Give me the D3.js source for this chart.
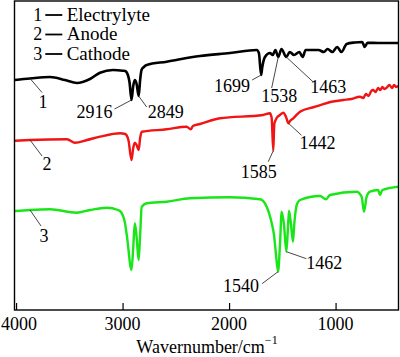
<!DOCTYPE html>
<html><head><meta charset="utf-8"><script src="https://cdn.jsdelivr.net/npm/d3@7"></script></head>
<body style="margin:0">
<svg id="chart" width="400" height="357" font-family="Liberation Serif"></svg>
<script>
// ---- data (wavenumber in cm^-1, transmittance in arbitrary offset units) ----
const wnElectrolyte = [4010,3869,3681,3541,3428,3306,3212,3090,2996,2975,2950,2935,2916,2900,2885,2868,2849,2835,2822,2800,2773,2586,2273,1991,1740,1720,1699,1688,1663,1616,1590,1565,1538,1508,1463,1430,1390,1340,1310,1280,1160,1110,1075,1030,985,945,896,820,750,726,700,600,410];
const tElectrolyte  = [230,231.5,233,230,227,231,237.3,240,239.3,239,235,228,210,224,230,226,214,230,240,243,245,248.3,254,257,260,257,235,243,253,257,255,260,253,261,253,258,255,258,253,260,260,258,261,258,263,258,266,267.5,268,263,267.3,267,267];

const wnAnode = [4010,3869,3522,3447,3334,3212,3024,2975,2945,2916,2900,2885,2868,2849,2835,2820,2586,2398,2360,2339,2273,2085,1681,1616,1600,1585,1575,1553,1522,1491,1465,1442,1428,1397,1334,1200,1024,930,850,771,740,715,690,665,648,625,600,580,560,540,517,495,470,450,430,410];
const tAnode  = [169.3,170,170.7,167.3,170,173.3,176.7,176,170,150,162,167.3,165,160,172,178.3,180.7,183.3,180.7,184,186,191.7,195,196.7,192,159.3,186,192,195,197.3,193,186.7,189,191.7,198.3,203,208.5,210,211,213.3,212,216,214,219,220,218,222,220,223,221,222.7,225,222,225,223,224];

const wnCathode = [4010,3869,3681,3431,3306,3149,3043,3015,2977,2958,2916,2900,2885,2868,2849,2835,2820,2773,2586,2367,1991,1710,1647,1600,1578,1559,1540,1522,1506,1484,1462,1448,1437,1418,1400,1386,1365,1334,1146,1090,1052,802,755,733,708,677,600,583,560,410];
const tCathode  = [99,100,100.7,97.3,100,102.3,100,98,86.7,73,40,62,86.7,73,50,75,103.3,106.7,108.3,111.7,112.7,110.7,103.3,87,75,55,38.3,65,98.3,85,58.3,80,99.3,85,68.3,88,105,110,114,110.7,115,118.3,113.3,98.3,113.3,118.3,120,115,120,123.3];

const seriesNames = ["Electrylyte","Anode","Cathode"];
const seriesColors = ["#000000","#f01414","#18e618"];
const xTicks = [4000,3000,2000,1000];
const xTitle = "Wavernumber/cm";
const xTitleSup = "\u22121";

// peak annotations
const peakSeries = [0,0,0,0,0,1,1,2,2];
const peakWn     = [2916,2849,1699,1538,1463,1585,1442,1540,1462];
const peakLabels = ["2916","2849","1699","1538","1463","1585","1442","1540","1462"];

// ---- layout ----
const L = 14.5, R = 398.5, T = 1, B = 310;
const FONT = "Liberation Serif";
const FS = 18;
const svg = d3.select("#chart");

const x = d3.scaleLinear().domain([4010, 410]).range([15, 398.4]);
const y = d3.scaleLinear().domain([0, 309]).range([310, 1]);

const series = [
  {wn: wnElectrolyte, t: tElectrolyte},
  {wn: wnAnode, t: tAnode},
  {wn: wnCathode, t: tCathode}
];

const line = d3.line()
  .x(d => x(d[0]))
  .y(d => y(d[1]))
  .curve(d3.curveMonotoneX);

svg.append("clipPath").attr("id","clip")
  .append("rect").attr("x", L).attr("y", T).attr("width", R - L).attr("height", B - T);

const g = svg.append("g").attr("clip-path","url(#clip)");
series.forEach((s, i) => {
  const pts = s.wn.map((w, k) => [w, s.t[k]]);
  g.append("path")
    .attr("d", line(pts))
    .attr("fill","none")
    .attr("stroke", seriesColors[i])
    .attr("stroke-width", i === 0 ? 2.6 : 2.4)
    .attr("stroke-linejoin","round");
});

// frame
svg.append("rect")
  .attr("x", L).attr("y", T).attr("width", R - L).attr("height", B - T)
  .attr("fill","none").attr("stroke","#000").attr("stroke-width",1.4);

// x axis (labels drawn as plain texts from the axis scale)
const axis = d3.axisBottom(x).tickValues(xTicks).tickSizeInner(-7).tickSizeOuter(0).tickFormat("");
const ax = svg.append("g").attr("transform", `translate(0,${B})`).call(axis);
ax.select(".domain").remove();
ax.selectAll(".tick line").attr("stroke","#000").attr("stroke-width",1.2);
ax.selectAll(".tick text").remove();
xTicks.forEach(t => {
  svg.append("text")
    .attr("x", x(t) + (t === 4000 ? 3 : 0)).attr("y", B + 20)
    .attr("text-anchor","middle")
    .attr("font-family", FONT).attr("font-size", FS)
    .text(d3.format("d")(t));
});

// x title
const tt = svg.append("text")
  .attr("x", 207).attr("y", 353)
  .attr("text-anchor","middle")
  .attr("font-family", FONT).attr("font-size", FS);
tt.append("tspan").text(xTitle);
tt.append("tspan").attr("dy", -9).attr("font-size", 12).text(xTitleSup);

// legend
const legendX = 33.3, legendY0 = 20.5, legendDy = 19.5;
seriesNames.forEach((n, i) => {
  const yy = legendY0 + i * legendDy;
  svg.append("text").attr("x", legendX).attr("y", yy).attr("font-family", FONT).attr("font-size", FS).text(String(i + 1));
  svg.append("line").attr("x1", legendX + 12).attr("x2", legendX + 29)
    .attr("y1", yy - 5.5).attr("y2", yy - 5.5).attr("stroke","#000").attr("stroke-width",1.8);
  svg.append("text").attr("x", legendX + 33.4).attr("y", yy).attr("font-family", FONT).attr("font-size", FS + 1).text(n);
});

function valueAt(s, w) {
  const idx = s.wn.indexOf(w);
  if (idx >= 0) return s.t[idx];
  for (let k = 0; k < s.wn.length - 1; k++) {
    if (s.wn[k] >= w && s.wn[k + 1] <= w) {
      const f = (s.wn[k] - w) / (s.wn[k] - s.wn[k + 1]);
      return s.t[k] + f * (s.t[k + 1] - s.t[k]);
    }
  }
  return s.t[0];
}

// curve number labels with leader lines (anchored at 3869 cm^-1)
const numWn = 3869;
const numLineOff = [[12,14],[12,16],[11,16]];
const numTextOff = [[13,29],[17,30],[14,32]];
series.forEach((s, i) => {
  const px = x(numWn), py = y(valueAt(s, numWn));
  svg.append("line").attr("x1", px).attr("y1", py)
    .attr("x2", px + numLineOff[i][0]).attr("y2", py + numLineOff[i][1])
    .attr("stroke","#333").attr("stroke-width",0.9);
  svg.append("text").attr("x", px + numTextOff[i][0]).attr("y", py + numTextOff[i][1])
    .attr("text-anchor","middle").attr("font-family", FONT).attr("font-size", FS).text(String(i + 1));
});

// peak annotations
const leadOff = [[-17,9],[8,11],[-9,5],[-6.6,31],[27,25],[-5,11],[13,12],[-16,12],[20,7]];
const textOff = [[-19,18],[9,22],[-11,17],[1,45],[24,36],[-14.6,27.6],[11,26],[-19,20],[20,17]];
const textAnchor = ["end","start","end","middle","start","middle","start","end","start"];
peakWn.forEach((w, i) => {
  const s = series[peakSeries[i]];
  const px = x(w), py = y(valueAt(s, w));
  svg.append("line").attr("x1", px).attr("y1", py)
    .attr("x2", px + leadOff[i][0]).attr("y2", py + leadOff[i][1])
    .attr("stroke","#333").attr("stroke-width",0.9);
  svg.append("text").attr("x", px + textOff[i][0]).attr("y", py + textOff[i][1])
    .attr("text-anchor", textAnchor[i]).attr("font-family", FONT).attr("font-size", FS).text(peakLabels[i]);
});
</script>
</body>
</html>
